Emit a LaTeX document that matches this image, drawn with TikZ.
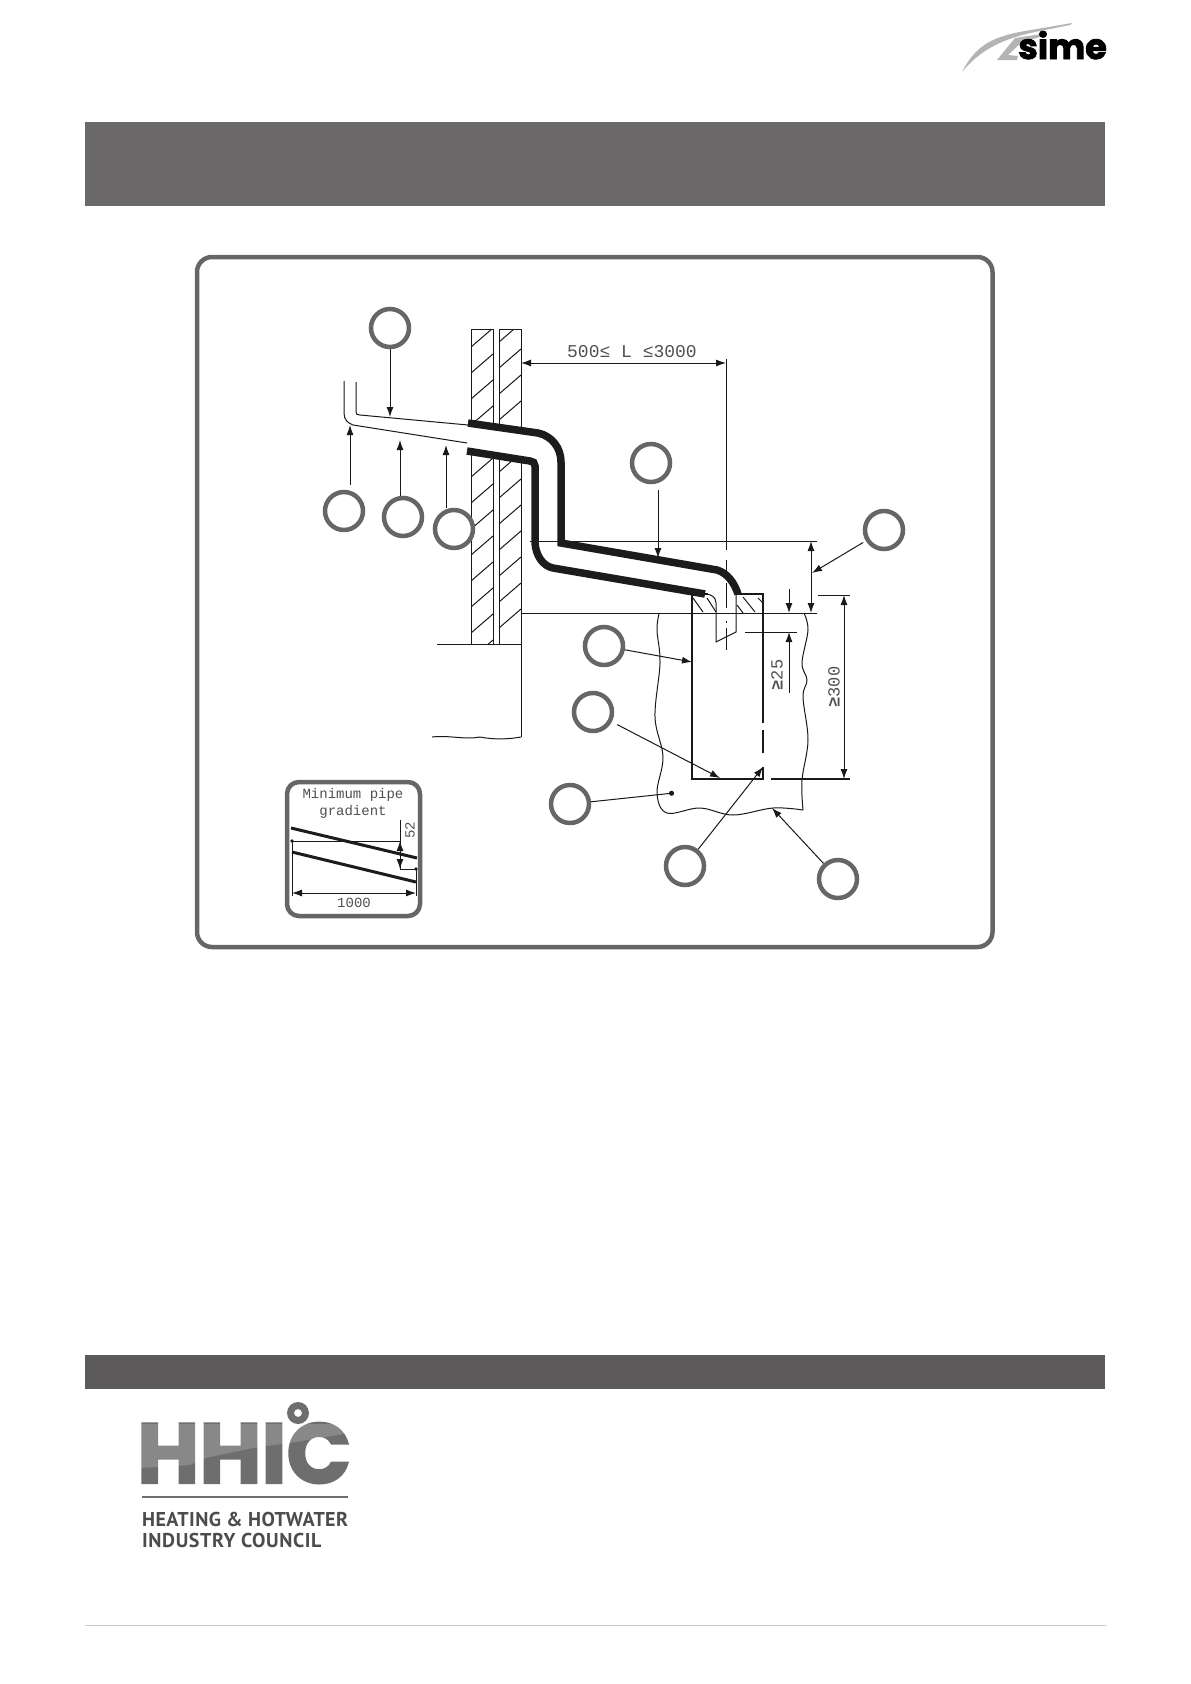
\documentclass[tikz,border=0pt]{standalone}
\usepackage{fontspec}
\setmainfont{Liberation Sans}
\setmonofont{Liberation Mono}
\newfontfamily\logofont[BoldFeatures={FakeBold=2.5}]{Poppins}
\newfontfamily\councilfont{PT Sans}
\usetikzlibrary{arrows.meta}

\definecolor{bargray}{HTML}{6A6868}
\definecolor{footgray}{HTML}{5C5A5A}
\definecolor{framegray}{HTML}{666666}
\definecolor{swoosh}{HTML}{B4B4B4}
\definecolor{pipeblack}{HTML}{1C1C1C}
\definecolor{dimtext}{HTML}{505050}
\definecolor{logogray}{HTML}{6E6E6E}

\tikzset{
	callout/.style={circle, draw=framegray, line width=4.5pt, inner sep=0pt, minimum size=38pt, fill=white},
	thin line/.style={line width=1pt, draw=black!90},
	thick pipe/.style={line width=7.5pt, draw=pipeblack},
	leader/.style={line width=1pt, draw=black!90, -{Latex[length=10pt,width=7pt]}},
	dim/.style={line width=1pt, draw=black!90, {Latex[length=10pt,width=7pt]}-{Latex[length=10pt,width=7pt]}},
	dimlabel/.style={font=\ttfamily\fontsize{18}{18}\selectfont, text=dimtext, inner sep=0pt},
	sidelabel/.style={font=\ttfamily\fontsize{17}{17}\selectfont, text=dimtext, inner sep=0pt, rotate=90},
	insetlabel/.style={font=\ttfamily\fontsize{14}{14}\selectfont, text=dimtext, inner sep=0pt}
}

\begin{document}
\begin{tikzpicture}[x=1pt,y=-1pt]
	\useasboundingbox (0,0) rectangle (1191,1684);

	% Draw bars
	\fill[bargray] (85,122) rectangle (1105,206);
	\fill[footgray] (85,1355) rectangle (1105,1389);
	\draw[line width=0.8pt,black!20] (85,1625) -- (1106,1625);

	% Draw frame
	\draw[framegray,line width=4.5pt,rounded corners=15pt] (197,257) rectangle (992.5,947);

	% Draw sime logo
	\fill[swoosh] (962,72) .. controls (975,47) and (990,37) .. (1025,31) -- (1072,23) -- (1070,25)
		-- (1040,31) .. controls (1003,38) and (980,50) .. cycle;
	\fill[swoosh] (1042,34) -- (1015,38) -- (997,60) -- (1017,60) -- (1018,56) -- (1008,55) -- (1022,42) -- (1040,37) -- cycle;
	\node[anchor=base east,inner sep=0pt,font=\logofont\bfseries\fontsize{35}{35}\selectfont,text=black] (simelogo) at (1107,59) {sime};

	% Draw walls
	\begin{scope}
		\clip (471,329) rectangle (493,644);
		\foreach \k in {0,...,12} {
			\draw[thin line] (471,347+26*\k) -- (493,328+26*\k);
		}
	\end{scope}
	\begin{scope}
		\clip (499,329) rectangle (521,644);
		\foreach \k in {0,...,11} {
			\draw[thin line] (499,342+26*\k) -- (521,323+26*\k);
		}
	\end{scope}
	\draw[thin line] (471,644) -- (471,329) -- (493,329) -- (493,644);
	\draw[thin line] (499,644) -- (499,329) -- (521,329) -- (521,737);
	\draw[thin line] (437,644) -- (521,644);
	\draw[thin line] (432,737) .. controls (450,735) and (465,740) .. (480,737) .. controls (495,740) and (510,739) .. (521,737);

	% Draw pipe opening through the wall
	\fill[white] (468,423) -- (538,433) -- (561,460) -- (561,543) -- (535,543) -- (533,461) -- (468,451) -- cycle;

	% Draw reference lines
	\draw[thin line] (530,541) -- (817,541);
	\draw[thin line] (521,613) -- (817,613);

	% Draw soakaway outline
	\draw[thin line] plot[smooth,tension=0.6] coordinates {(659,614) (657,630) (660,663) (655,717) (663,757) (657,793) (667,813) (700,808) (733,815) (773,808) (803,810)};
	\draw[thin line] plot[smooth,tension=0.6] coordinates {(803,810) (802,780) (808,740) (803,697) (807,680) (802,663) (808,630) (804,613)};

	% Draw pit
	\foreach \xa/\ya/\xb/\yb in {693/598/703/612,707/598/716/612,737/605/743/613,743/597/755/612,758/598/763/603} {
		\draw[thin line] (\xa,\ya) -- (\xb,\yb);
	}
	\draw[line width=1.3pt,black!90] (692,594) -- (692,779) -- (763,779) -- (763,767);
	\draw[line width=1.3pt,black!90] (763,753) -- (763,730);
	\draw[line width=1.3pt,black!90] (763,723) -- (763,594) -- (736,594);
	\draw[line width=1.3pt,black!90] (692,594) -- (708,594);
	\draw[line width=1.3pt,black!90] (771,779) -- (850,779);
	\draw[thin line] (818,595) -- (850,595);

	% Draw pipe
	\draw[thin line] (344,381) -- (344,413) .. controls (344,420) and (348,423) .. (353,425) -- (467,443);
	\draw[thin line] (356,382) -- (356,412) .. controls (356,414) and (357,415) .. (360,415) -- (468,425);
	\draw[thin line] (705,594) .. controls (711,594) and (716,597) .. (716,603) -- (716,642) -- (736,632) -- (736,594);
	\draw[thick pipe] (468,423) -- (538,433) .. controls (552,436) and (561,448) .. (561,462) -- (561,543) -- (717,570)
		.. controls (727,573) and (734,582) .. (738,594);
	\draw[thick pipe] (467,451) -- (530,461) .. controls (533,461) and (535,463) .. (535,466) -- (535,543)
		.. controls (536,556) and (543,566) .. (553,568) -- (705,594);

	% Draw centre line
	\draw[thin line] (726,359) -- (726,550);
	\draw[thin line] (726,560) -- (726,580);
	\draw[thin line] (726,583) -- (726,608);
	\draw[thin line] (726,621) -- (726,623);
	\draw[thin line] (726,628) -- (726,650);

	% Draw dimensions
	\draw[dim] (521,363) -- (726,363);
	\draw[dim] (811,541) -- (811,613);
	\draw[thin line] (745,632) -- (797,632);
	\draw[thin line,-{Latex[length=10pt,width=7pt]}] (789,589) -- (789,613);
	\draw[thin line,-{Latex[length=10pt,width=7pt]}] (789,693) -- (789,632);
	\draw[dim] (844,595) -- (844,779);
	\node[dimlabel] (lengthlabel) at (632,352) {500≤ L ≤3000};
	\node[sidelabel] (coverlabel) at (777,675) {{\bfseries≥}25};
	\node[sidelabel] (depthlabel) at (834,687) {{\bfseries≥}300};

	% Leader end points
	\coordinate (p1) at (390,417);
	\coordinate (p2) at (350,425);
	\coordinate (p3) at (400,440);
	\coordinate (p4) at (446,445);
	\coordinate (p5) at (658,558);
	\coordinate (p6) at (812,573);
	\coordinate (p7) at (692,662);
	\coordinate (p8) at (720,778);
	\coordinate (p9) at (674,793);
	\coordinate (p10) at (763,767);
	\coordinate (p11) at (772,808);

	% Draw circles
	\foreach \n/\x/\y in {1/390/328,2/344/511,3/403/517,4/454/529,5/651/463,6/884/530,7/604/646,8/593/712,9/570/804,10/685/866,11/838/879} {
		\node[callout] (c\n) at (\x,\y) {};
	}

	% Draw leaders
	\draw[leader] (p1 |- c1.south) -- (p1);
	\draw[leader,shorten <=5pt] (p2 |- c2.north) -- (p2);
	\draw[leader] (p3 |- c3.north) -- (p3);
	\draw[leader] (p4 |- c4.north) -- (p4);
	\draw[leader,shorten <=6pt] (p5 |- c5.south) -- (p5);
	\draw[leader,shorten <=3pt] (c6) -- (p6);
	\draw[leader] (c7) -- (p7);
	\draw[leader,shorten <=6pt] (c8) -- (p8);
	\draw[thin line,-{Circle[length=5pt]}] (c9) -- (p9);
	\draw[leader] (c10) -- (p10);
	\draw[leader] (c11) -- (p11);

	% Draw inset
	\draw[framegray,line width=4.5pt,rounded corners=12pt,fill=white] (287,782) rectangle (420,916);
	\node[insetlabel] (gradtitle) at (353,795) {Minimum pipe};
	\node[insetlabel] (gradsub) at (353,812) {gradient};
	\draw[line width=3pt,pipeblack] (291,828) -- (417,858);
	\draw[line width=3pt,pipeblack] (292,852) -- (416,882);
	\draw[thin line] (292,896) -- (292,841) -- (400,841);
	\draw[thin line] (400,820) -- (400,869) -- (416,869) -- (416,896);
	\fill[pipeblack] (292,841) circle (1.8) (416,869) circle (1.8);
	\draw[dim] (400,841) -- (400,869);
	\draw[dim] (292,893) -- (416,893);
	\node[insetlabel] (gradwidth) at (354,903) {1000};
	\node[insetlabel,rotate=90] (gradrise) at (410,830) {52};

	% Draw HHIC logo
	\node[anchor=base west,inner sep=0pt,font=\logofont\bfseries\fontsize{85}{85}\selectfont,text=logogray] (hhiclogo) at (137,1483) {HHIC};
	\fill[logogray,even odd rule] (298,1413) circle (11) (298,1413) circle (4);
	\fill[white,opacity=0.18] (140,1424) -- (350,1424) -- (350,1433) -- (290,1443) -- (258,1447) -- (205,1458) -- (190,1465) -- (140,1468) -- cycle;
	\draw[line width=2pt,logogray] (142,1497) -- (348,1497);
	\node[anchor=base west,inner sep=0pt,font=\councilfont\bfseries\fontsize{20}{20}\selectfont\addfontfeatures{LetterSpace=2},text=black!70] (councilone) at (142,1526) {HEATING \& HOTWATER};
	\node[anchor=base west,inner sep=0pt,font=\councilfont\bfseries\fontsize{20}{20}\selectfont\addfontfeatures{LetterSpace=3},text=black!70] (counciltwo) at (142,1547) {INDUSTRY COUNCIL};
\end{tikzpicture}
\end{document}
